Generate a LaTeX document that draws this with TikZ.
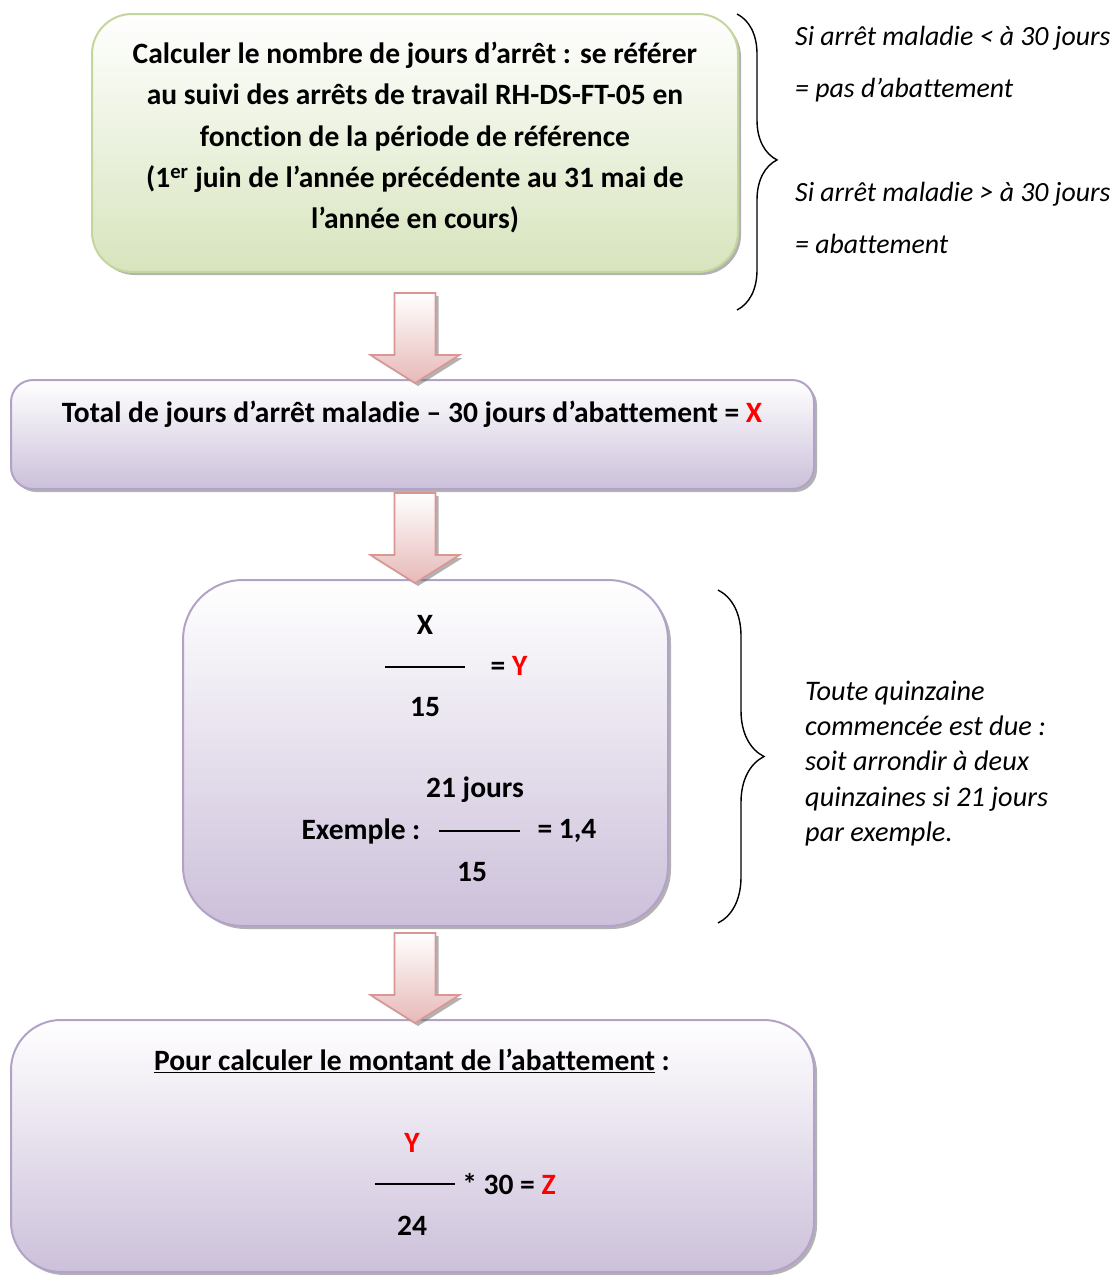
\documentclass[tikz,border=0pt]{standalone}
\usepackage{fontspec}
\setmainfont{Carlito}[Ligatures=NoCommon]
\usetikzlibrary{shadows,decorations.pathreplacing}
\definecolor{grnB}{HTML}{C3D69B}
\definecolor{grnF}{HTML}{D7E4BD}
\definecolor{purB}{HTML}{B3A2C7}
\definecolor{purF}{HTML}{CCC0DA}
\definecolor{pnkB}{HTML}{D99694}
\definecolor{pnkF}{HTML}{E6B9B8}
\definecolor{redX}{HTML}{FF0000}
\tikzset{
  shd/.style={drop shadow={shadow xshift=3pt,shadow yshift=-3pt,fill=black!60,opacity=0.5}},
  grnbox/.style={draw=grnB,line width=2pt,top color=white,bottom color=grnF,shd},
  purbox/.style={draw=purB,line width=2pt,top color=white,bottom color=purF,shd},
  bt/.style={font=\fontsize{29.5}{41.3}\selectfont\bfseries,align=center,inner sep=0pt},
  itA/.style={font=\fontsize{27.8}{52}\selectfont\itshape,align=left,inner sep=0pt,anchor=west},
  itB/.style={font=\fontsize{28.3}{35.25}\selectfont\itshape,align=left,inner sep=0pt,anchor=west},
  fracline/.style={line width=1.4pt,black},
  bracestyle/.style={decorate,line width=1.4pt,black},
  blkarrow/.pic={
    \shade[top color=white,bottom color=pnkF,draw=pnkB,line width=1.6pt,shd]
      (-20.5,0) -- (20.5,0) -- (20.5,62) -- (44.5,62) -- (0,90) -- (-44.5,62) -- (-20.5,62) -- cycle;
  }
}
\begin{document}
\begin{tikzpicture}[x=1pt,y=-1pt]
\useasboundingbox (0,0) rectangle (1116,1275);

% boxes
\node[grnbox,rounded corners=40pt,minimum width=646pt,minimum height=258pt,inner sep=0pt] (b1) at (415,143) {};
\node[purbox,rounded corners=22pt,minimum width=803pt,minimum height=109pt,inner sep=0pt] (b2) at (412.5,434.5) {};
\node[purbox,rounded corners=60pt,minimum width=485pt,minimum height=346pt,inner sep=0pt] (b3) at (425.5,753) {};
\node[purbox,rounded corners=50pt,minimum width=803pt,minimum height=252pt,inner sep=0pt] (b4) at (412.5,1146) {};

% block arrows
\pic at (415,293) {blkarrow};
\pic at (415,493) {blkarrow};
\pic at (415,933) {blkarrow};

% box 1 text
\node[bt] (t1) at (415,137.5) {Calculer le nombre de jours d’arrêt : se référer\\
au suivi des arrêts de travail RH-DS-FT-05 en\\
fonction de la période de référence\\
(1\textsuperscript{er} juin de l’année précédente au 31 mai de\\
l’année en cours)};

% box 2 text
\node[bt] (t2) at (412,414) {Total de jours d’arrêt maladie – 30 jours d’abattement = \textcolor{redX}{X}};

% box 3 content
\node[bt] (x1) at (425,625) {X};
\coordinate (l1a) at (385,667);
\coordinate (l1b) at (465,667);
\draw[fracline] (l1a) -- (l1b);
\node[bt] (y1) at (509,666) {= \textcolor{redX}{Y}};
\node[bt] (d1) at (425,707) {15};
\node[bt] (n2) at (475,790) {21 jours};
\node[bt] (ex) at (361,831) {Exemple :};
\coordinate (l2a) at (439,831);
\coordinate (l2b) at (520,831);
\draw[fracline] (l2a) -- (l2b);
\node[bt] (r14) at (567,831) {= 1,4};
\node[bt] (d2) at (472,872) {15};

% box 4 content
\node[bt] (t4) at (412,1061) {\underline{Pour calculer le montant de l’abattement} :};
\node[bt] (y2) at (412,1143) {\textcolor{redX}{Y}};
\coordinate (l3a) at (375,1184);
\coordinate (l3b) at (455,1184);
\draw[fracline] (l3a) -- (l3b);
\node[bt] (z1) at (509,1184) {* 30 = \textcolor{redX}{Z}};
\node[bt] (d3) at (412,1226) {24};

% braces
\coordinate (br1a) at (737,14);
\coordinate (br1b) at (737,310);
\draw[bracestyle,decoration={brace,amplitude=40pt,aspect=0.493}] (br1a) -- (br1b);
\coordinate (br2a) at (718,590);
\coordinate (br2b) at (718,923);
\draw[bracestyle,decoration={brace,amplitude=46pt,aspect=0.5}] (br2a) -- (br2b);

% side notes
\node[itA] (s1) at (795,64) {Si arrêt maladie < à 30 jours\\= pas d’abattement};
\node[itA] (s2) at (795,217.5) {Si arrêt maladie > à 30 jours\\= abattement};
\node[itB] (s3) at (805,763.5) {Toute quinzaine\\commencée est due :\\soit arrondir à deux\\quinzaines si 21 jours\\par exemple.};
\end{tikzpicture}
\end{document}
